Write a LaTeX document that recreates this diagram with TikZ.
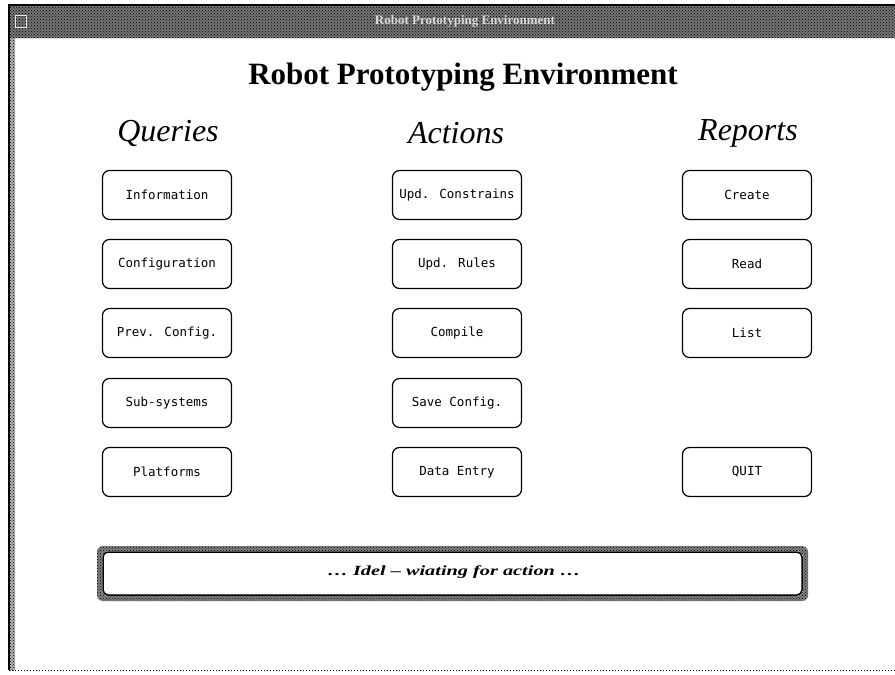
\documentclass[tikz,border=0pt]{standalone}
\usepackage{fontspec}
\setmainfont{Liberation Serif}
\newfontfamily\btnfont{DejaVu Sans Mono}
\usetikzlibrary{patterns}
\begin{document}
\begin{tikzpicture}[x=1pt,y=-1pt,
  button/.style={draw=black,line width=1.2pt,rounded corners=7pt,minimum width=129pt,minimum height=49pt,
    font=\btnfont\fontsize{12.5}{14}\selectfont,inner sep=0pt},
  header/.style={font=\itshape\fontsize{32}{36}\selectfont},
  stipple/.style={pattern=crosshatch dots,pattern color=black}]
\useasboundingbox (0,0) rectangle (895,675);
\fill[white] (0,0) rectangle (895,675);
% window frame
\fill[black!55] (8,6) rectangle (895,38);
\fill[stipple] (8,6) rectangle (895,38);
\draw[line width=1.5pt] (8,5) -- (895,5);
\draw[line width=2.5pt] (9,5) -- (9,670);
\fill[black!30] (10,38) rectangle (15,670);
\fill[stipple] (10,38) rectangle (15,670);
\draw[line width=1pt,dotted] (9,670) -- (895,670);
\node[font=\fontsize{13}{15}\selectfont\bfseries,text=black!15] (bartitle) at (465,21) {Robot Prototyping Environment};
\node[draw=black!10,line width=1pt,minimum width=11pt,minimum height=12pt,inner sep=0pt] (icon) at (21,21) {};
% title
\node[font=\bfseries\fontsize{31}{36}\selectfont] (title) at (463,77) {Robot Prototyping Environment};
% column headers
\node[header] (queries) at (168,133) {Queries};
\node[header] (actions) at (456,133) {Actions};
\node[header] (reports) at (748,133) {Reports};
% queries
\node[button] (info) at (167,195) {Information};
\node[button] (conf) at (167,264) {Configuration};
\node[button] (prev) at (167,333) {Prev. Config.};
\node[button] (subs) at (167,403) {Sub-systems};
\node[button] (plat) at (167,472) {Platforms};
% actions
\node[button] (constr) at (457,195) {Upd. Constrains};
\node[button] (rules) at (457,264) {Upd. Rules};
\node[button] (comp) at (457,333) {Compile};
\node[button] (save) at (457,403) {Save Config.};
\node[button] (data) at (457,472) {Data Entry};
% reports
\node[button] (create) at (747,195) {Create};
\node[button] (read) at (747,264) {Read};
\node[button] (list) at (747,333) {List};
\node[button] (quit) at (747,472) {QUIT};
% status line with stippled frame
\fill[black!50,even odd rule,rounded corners=6pt] (97,546) rectangle (808,601) (102,551) rectangle (803,596);
\fill[stipple,even odd rule,rounded corners=6pt] (97,546) rectangle (808,601) (102,551) rectangle (803,596);
\draw[line width=1.5pt,rounded corners=5pt] (103,552) rectangle (802,595);
\node[font=\bfseries\itshape\fontsize{14}{16}\selectfont] (status) at (454,572) {\scalebox{1.45}[1]{\ldots\ Idel -- wiating for action \ldots}};
\end{tikzpicture}
\end{document}
